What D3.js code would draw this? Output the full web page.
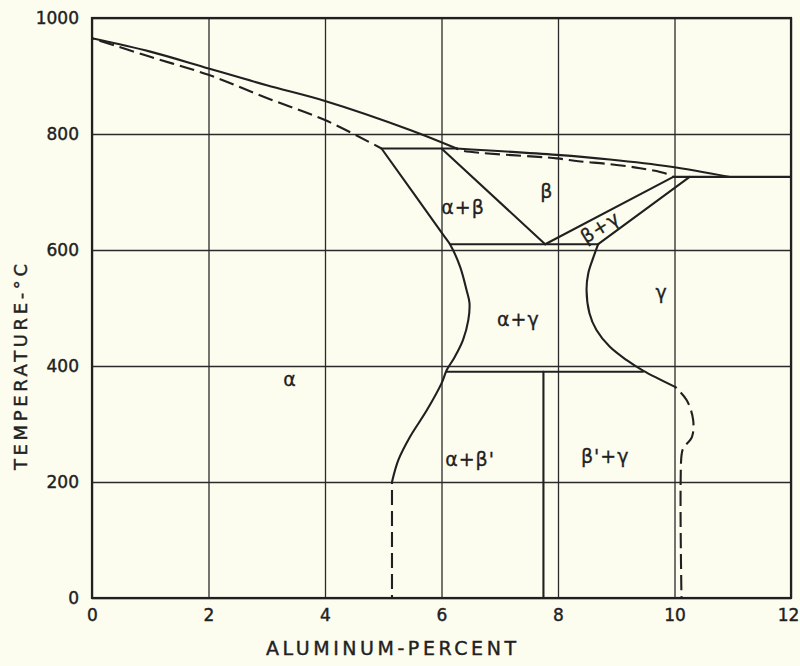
<!DOCTYPE html>
<html>
<head>
<meta charset="utf-8">
<script src="https://cdn.jsdelivr.net/npm/d3@7"></script>
<style>
  html, body { margin: 0; padding: 0; background: #fcfcef; }
  svg { display: block; }
  text { font-family: "DejaVu Sans", sans-serif; fill: #222; }
</style>
</head>
<body>
<svg id="chart" width="800" height="666"></svg>
<script>
// Cu–Al equilibrium diagram, aluminium 0–12 %, temperature 0–1000 °C

const xTicks = [0, 2, 4, 6, 8, 10, 12];
const yTicks = [0, 200, 400, 600, 800, 1000];

// phase boundaries as [aluminium %, temperature °C]
const liquidusAlpha   = [[0, 965], [1, 942], [2, 913], [3, 884], [4, 857], [5.46, 807], [6.26, 775]];
const liquidusBeta    = [[6.26, 775], [7.98, 764], [8.89, 756], [9.91, 744], [10.95, 726]];
const solidusAlpha    = [[0, 965], [1, 933], [2, 902], [3, 862], [4, 824], [4.97, 775]];
const solidusBeta     = [[6.26, 775], [6.37, 771], [7.98, 758], [8.35, 753], [8.89, 748], [9.41, 741], [9.85, 732], [9.98, 726]];
const peritectic      = [[4.97, 775], [6.26, 775]];
const alphaSolvus     = [[4.97, 775], [6.03, 626], [6.15, 609], [6.32, 571], [6.43, 531], [6.48, 509],
                         [6.46, 479], [6.37, 445], [6.23, 416], [6.09, 393], [6.0, 370], [5.75, 324],
                         [5.46, 278], [5.26, 238], [5.15, 200]];
const alphaSolvusLow  = [[5.15, 200], [5.15, 0]];
const betaAlphaLine   = [[6.0, 775], [7.78, 610]];
const eutectoid       = [[6.15, 610], [8.69, 610]];
const betaGammaLine   = [[7.78, 610], [9.98, 726]];
const gammaUpperLine  = [[8.69, 610], [10.26, 726]];
const eutectic        = [[9.98, 726], [12, 726]];
const gammaSolvus     = [[8.69, 610], [8.61, 588], [8.52, 560], [8.49, 531], [8.54, 491], [8.66, 462],
                         [8.89, 433], [9.18, 410], [9.46, 392], [10.01, 364]];
const gammaSolvusLow  = [[10.01, 364], [10.21, 341], [10.32, 307], [10.30, 278], [10.15, 258], [10.12, 246], [10.12, 0]];
const orderingLine    = [[6.09, 390], [9.46, 390]];
const betaPrimeLine   = [[7.75, 390], [7.75, 0]];

// field names and where they sit, [aluminium %, temperature °C]
const fieldNames = ["α", "α+β", "β", "β+γ", "α+γ", "γ", "α+β'", "β'+γ"];
const fieldAt    = [[3.4, 378], [6.37, 674], [7.81, 702], [8.72, 640], [7.32, 481], [9.78, 527], [6.49, 239], [8.81, 244]];
const fieldTilt  = [0, 0, 0, -32, 0, 0, 0, 0];

const svg = d3.select("#chart");
const x = d3.scaleLinear().domain([0, 12]).range([92, 791]);
const y = d3.scaleLinear().domain([0, 1000]).range([598, 18]);
const ink = "#202020";

// grid and tick labels
const gx = svg.append("g")
  .attr("transform", `translate(0,${y(0)})`)
  .call(d3.axisBottom(x).tickValues(xTicks).tickSize(-(y(0) - y(1000))).tickPadding(11).tickFormat(d3.format("d")));
const gy = svg.append("g")
  .attr("transform", `translate(${x(0)},0)`)
  .call(d3.axisLeft(y).tickValues(yTicks).tickSize(-(x(12) - x(0))).tickPadding(13).tickFormat(d3.format("d")));
[gx, gy].forEach(g => {
  g.select(".domain").remove();
  g.selectAll(".tick line").attr("stroke", "#2a2a2a").attr("stroke-width", 1.3);
  g.selectAll(".tick text").attr("font-size", 17).attr("fill", ink)
    .attr("stroke", ink).attr("stroke-width", 0.4)
    .attr("font-family", "DejaVu Sans, sans-serif");
});
// keep the last aluminium label inside the page
gx.selectAll(".tick text").filter(d => d === 12).attr("dx", -3);

// frame
svg.append("rect")
  .attr("x", x(0)).attr("y", y(1000))
  .attr("width", x(12) - x(0)).attr("height", y(0) - y(1000))
  .attr("fill", "none").attr("stroke", ink).attr("stroke-width", 2.2);

const smooth = d3.line().x(d => x(d[0])).y(d => y(d[1])).curve(d3.curveCatmullRom.alpha(0.5));
const straight = d3.line().x(d => x(d[0])).y(d => y(d[1]));

const solid = [
  [liquidusAlpha, smooth], [liquidusBeta, smooth], [peritectic, straight],
  [alphaSolvus, smooth], [betaAlphaLine, straight], [eutectoid, straight],
  [betaGammaLine, straight], [gammaUpperLine, straight], [eutectic, straight],
  [gammaSolvus, smooth], [orderingLine, straight], [betaPrimeLine, straight]
];
const dashed = [
  [solidusAlpha, smooth], [solidusBeta, smooth],
  [alphaSolvusLow, straight], [gammaSolvusLow, smooth]
];

svg.append("g").selectAll("path").data(solid).join("path")
  .attr("d", d => d[1](d[0]))
  .attr("fill", "none").attr("stroke", ink).attr("stroke-width", 2.1)
  .attr("stroke-linejoin", "round").attr("stroke-linecap", "round");

svg.append("g").selectAll("path").data(dashed).join("path")
  .attr("d", d => d[1](d[0]))
  .attr("fill", "none").attr("stroke", ink).attr("stroke-width", 2.1)
  .attr("stroke-dasharray", "15,6").attr("stroke-dashoffset", -8);

// field labels
svg.append("g").selectAll("text").data(fieldNames).join("text")
  .attr("transform", (d, i) => `translate(${x(fieldAt[i][0])},${y(fieldAt[i][1])}) rotate(${fieldTilt[i]})`)
  .attr("text-anchor", "middle").attr("dominant-baseline", "central")
  .attr("font-size", 19).attr("letter-spacing", 1).attr("fill", ink)
  .attr("stroke", ink).attr("stroke-width", 0.3)
  .text(d => d);

// axis titles
svg.append("text")
  .attr("x", 391).attr("y", 655)
  .attr("text-anchor", "middle").attr("font-size", 19)
  .attr("stroke", ink).attr("stroke-width", 0.4)
  .attr("textLength", 250).attr("lengthAdjust", "spacing")
  .text("ALUMINUM-PERCENT");

svg.append("text")
  .attr("transform", "translate(27,367) rotate(-90)")
  .attr("text-anchor", "middle").attr("font-size", 18)
  .attr("stroke", ink).attr("stroke-width", 0.4)
  .attr("textLength", 206).attr("lengthAdjust", "spacing")
  .text("TEMPERATURE-°C");
</script>
</body>
</html>
